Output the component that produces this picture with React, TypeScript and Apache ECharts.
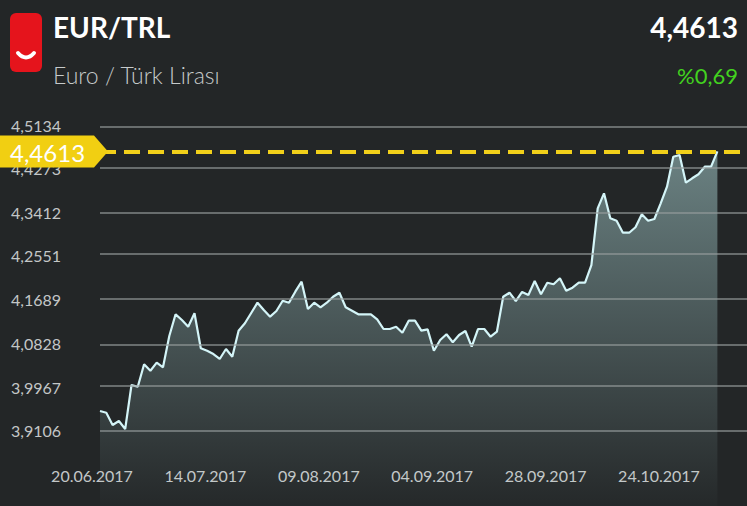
import React, { useEffect, useRef } from "react";
import * as echarts from "echarts";

const pair = "EUR/TRL";
const pairName = "Euro / Türk Lirası";
const currentRate = 4.4613;
const changeText = "%0,69";

const dates = [
  "20.06.2017","21.06.2017","22.06.2017","23.06.2017","26.06.2017","27.06.2017","28.06.2017","29.06.2017","30.06.2017",
  "03.07.2017","04.07.2017","05.07.2017","06.07.2017","07.07.2017","10.07.2017","11.07.2017","12.07.2017","13.07.2017","14.07.2017",
  "17.07.2017","18.07.2017","19.07.2017","20.07.2017","21.07.2017","24.07.2017","25.07.2017","26.07.2017","27.07.2017","28.07.2017","31.07.2017",
  "01.08.2017","02.08.2017","03.08.2017","04.08.2017","07.08.2017","08.08.2017","09.08.2017","10.08.2017","11.08.2017","14.08.2017",
  "15.08.2017","16.08.2017","17.08.2017","18.08.2017","21.08.2017","22.08.2017","23.08.2017","24.08.2017","25.08.2017","28.08.2017",
  "29.08.2017","30.08.2017","31.08.2017",
  "01.09.2017","04.09.2017","05.09.2017","06.09.2017","07.09.2017","08.09.2017","11.09.2017","12.09.2017","13.09.2017","14.09.2017",
  "15.09.2017","18.09.2017","19.09.2017","20.09.2017","21.09.2017","22.09.2017","25.09.2017","26.09.2017","27.09.2017","28.09.2017","29.09.2017",
  "02.10.2017","03.10.2017","04.10.2017","05.10.2017","06.10.2017","09.10.2017","10.10.2017","11.10.2017","12.10.2017","13.10.2017",
  "16.10.2017","17.10.2017","18.10.2017","19.10.2017","20.10.2017","23.10.2017","24.10.2017","25.10.2017","26.10.2017","27.10.2017",
  "30.10.2017","31.10.2017",
  "01.11.2017","02.11.2017","03.11.2017"
];

const rates = [
  3.9494,3.9461,3.9218,3.9297,3.9139,4.0007,3.9973,4.0415,4.0289,4.0447,
  4.0356,4.0973,4.1401,4.1289,4.1156,4.1421,4.0731,4.0683,4.0618,4.0520,
  4.0717,4.0565,4.1078,4.1224,4.1427,4.1630,4.1486,4.1354,4.1466,4.1669,
  4.1630,4.1847,4.2044,4.1506,4.1630,4.1539,4.1630,4.1748,4.1827,4.1539,
  4.1472,4.1401,4.1401,4.1401,4.1302,4.1111,4.1111,4.1156,4.1038,4.1275,
  4.1275,4.1078,4.1105,4.0683,4.0894,4.1007,4.0849,4.0993,4.1072,4.0762,
  4.1111,4.1111,4.0959,4.1058,4.1748,4.1827,4.1663,4.1841,4.1782,4.2058,
  4.1795,4.2024,4.1993,4.2111,4.1866,4.1926,4.2024,4.2024,4.2373,4.3491,
  4.3787,4.3294,4.3247,4.3010,4.3010,4.3117,4.3373,4.3247,4.3280,4.3590,
  4.3917,4.4509,4.4542,4.3996,4.4083,4.4162,4.4312,4.4312,4.4613
];

const yTicks = [3.9106, 3.9967, 4.0828, 4.1689, 4.2551, 4.3412, 4.4273, 4.5134];
const xLabelStep = 18;

const BG = "#232627";
const FONT = "Lato, 'Noto Sans', sans-serif";

const fmt = (v: number) => v.toFixed(4).replace(".", ",");

export default function App() {
  const ref = useRef<HTMLDivElement>(null);

  useEffect(() => {
    if (!ref.current) return;
    const chart = echarts.init(ref.current, null, { renderer: "svg" });
    const seriesData = rates.map((v, i) => [i, v]);

    chart.setOption({
      animation: false,
      backgroundColor: BG,
      grid: { left: 100, right: 0, top: 125, bottom: 0 },
      xAxis: {
        type: "value",
        min: 0,
        max: 102.7,
        interval: xLabelStep,
        axisLine: { show: false },
        axisTick: { show: false },
        splitLine: { show: false },
        axisLabel: {
          inside: true,
          margin: 23,
          color: "#c3c7c7",
          fontFamily: FONT,
          fontSize: 16,
          showMaxLabel: false,
          padding: [0, 16, 0, 0],
          formatter: (v: number) => dates[v] ?? "",
        },
      },
      yAxis: {
        type: "value",
        min: 3.7621,
        max: 4.5134,
        axisLine: { show: false },
        axisTick: { show: false },
        splitLine: { show: false },
        axisLabel: {
          customValues: yTicks,
          formatter: (v: number) => fmt(v),
          align: "left",
          margin: 89,
          padding: [4, 0, 0, 0],
          color: "#c3c7c7",
          fontFamily: FONT,
          fontSize: 16,
        },
      },
      series: [
        {
          type: "line",
          z: 1,
          silent: true,
          data: seriesData,
          showSymbol: false,
          lineStyle: { opacity: 0 },
          markLine: {
            silent: true,
            symbol: ["none", "none"],
            label: { show: false },
            lineStyle: { color: "rgba(150,156,156,0.6)", width: 2, type: "solid" },
            data: yTicks.map((v) => ({ yAxis: v })),
          },
        },
        {
          type: "line",
          z: 2,
          data: seriesData,
          showSymbol: false,
          lineStyle: { color: "#d4f5f8", width: 2.2 },
          areaStyle: {
            color: {
              type: "linear",
              x: 0, y: 0, x2: 0, y2: 1,
              colorStops: [
                { offset: 0, color: "rgba(185,230,230,0.68)" },
                { offset: 1, color: "rgba(185,230,230,0.02)" },
              ],
            },
          },
        },
        {
          type: "line",
          z: 3,
          silent: true,
          data: [],
          markLine: {
            silent: true,
            symbol: ["none", "none"],
            label: { show: false },
            lineStyle: { color: "#f2d01a", width: 4, type: [16, 8] },
            data: [{ yAxis: currentRate }],
          },
        },
      ],
    });

    const yPix = chart.convertToPixel({ yAxisIndex: 0 }, currentRate) as number;

    chart.setOption({
      graphic: [
        {
          type: "rect",
          z: 100,
          shape: { x: 10, y: 13, width: 32, height: 59, r: 6 },
          style: { fill: "#e5141c" },
        },
        {
          type: "bezierCurve",
          z: 101,
          shape: { x1: 18, y1: 53, cpx1: 26, cpy1: 62, x2: 34, y2: 53 },
          style: { stroke: "#ffffff", lineWidth: 4, lineCap: "round", fill: null },
        },
        {
          type: "text",
          z: 100,
          style: {
            text: pair, x: 53, y: 27, fill: "#ffffff",
            font: `bold 28px ${FONT}`, align: "left", verticalAlign: "middle",
          },
        },
        {
          type: "text",
          z: 100,
          style: {
            text: pairName, x: 53, y: 75, fill: "#c6caca",
            font: `300 23px ${FONT}`, align: "left", verticalAlign: "middle",
          },
        },
        {
          type: "text",
          z: 100,
          style: {
            text: fmt(currentRate), x: 738, y: 27, fill: "#ffffff",
            font: `bold 28px ${FONT}`, align: "right", verticalAlign: "middle",
          },
        },
        {
          type: "text",
          z: 100,
          style: {
            text: changeText, x: 738, y: 75, fill: "#42d21f",
            font: `22px ${FONT}`, align: "right", verticalAlign: "middle",
          },
        },
        {
          type: "polygon",
          z: 100,
          shape: {
            points: [
              [0, yPix - 16], [94, yPix - 16], [108, yPix], [94, yPix + 16], [0, yPix + 16],
            ],
          },
          style: { fill: "#f1cf12" },
        },
        {
          type: "text",
          z: 101,
          style: {
            text: fmt(currentRate), x: 10, y: yPix + 1, fill: "#ffffff",
            font: `24px ${FONT}`, align: "left", verticalAlign: "middle",
          },
        },
      ],
    });

    return () => chart.dispose();
  }, []);

  return (
    <div
      ref={ref}
      style={{ position: "absolute", left: 0, top: 0, width: 747, height: 506 }}
    />
  );
}
